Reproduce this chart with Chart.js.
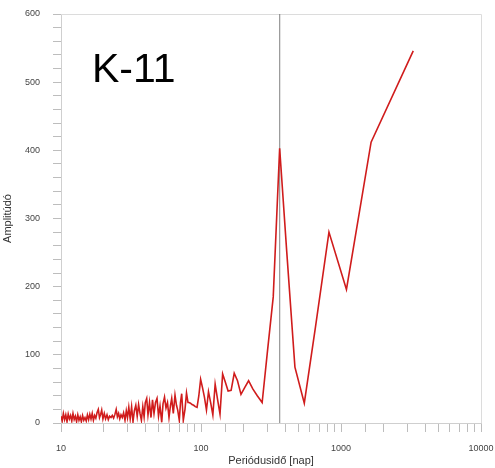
<!DOCTYPE html>
<html>
<head>
<meta charset="utf-8">
<script src="https://cdn.jsdelivr.net/npm/chart.js@4.4.1/dist/chart.umd.min.js"></script>
<style>
  body { margin: 0; background: #fff; }
  #wrap { position: relative; width: 495px; height: 468px; }
  #label {
    position: absolute; left: 92px; top: 48px;
    font: 41px/1 "Liberation Sans", Arial, sans-serif; color: #000;
  }
</style>
</head>
<body>
<div id="wrap">
  <canvas id="chart" width="495" height="468"></canvas>
  <div id="label">K-11</div>
</div>
<script>
// Period (days) and amplitude
let periods = [
    10.00, 10.20, 10.40, 10.61, 10.82, 11.04, 11.26, 11.48, 11.71, 11.94,
    12.18, 12.42, 12.67, 12.92, 13.18, 13.44, 13.71, 13.98, 14.26, 14.55,
    14.84, 15.14, 15.44, 15.75, 16.06, 16.38, 16.71, 17.04, 17.38, 17.73,
    18.08, 18.47, 18.84, 19.21, 19.53, 19.93,
    20.38, 20.82, 21.31, 21.77, 22.24, 22.76, 23.25, 23.75, 24.30, 24.79,
    25.28, 25.79, 26.30, 26.83, 27.41, 28.00, 28.65, 29.27, 29.85,
    30.50, 31.21, 31.94, 32.68, 33.44, 34.22, 35.02, 35.83, 36.67, 37.52,
    38.39, 39.23,
    40.00, 40.94, 41.82, 42.87, 43.94, 45.04, 46.17, 47.32, 48.51, 49.72,
    50.96, 52.41, 53.54, 54.88, 56.23, 57.64, 59.08, 60.56, 61.77, 63.41,
    65.21, 66.83, 68.17, 69.98, 71.37, 72.80, 74.74, 76.86, 78.79, 80.75,
    82.0, 84.1, 86.3, 88.7, 91.1, 93.7, 96.5, 99.4, 102.5, 105.8,
    109.4, 113.1, 117.2, 121.5, 126.2, 131.2, 136.7, 142.7, 149.1, 156.2,
    164.1, 172.7, 182.3, 193.0, 205.1, 218.7, 234.4, 252.4, 273.4, 298.3,
    328.1, 364.6, 410.1, 468.7, 546.8, 656.2, 820.3, 1093.7, 1640.5, 3281
];
let amplitudes = [
    10, 3, 14, 5, 12, 2, 13, 6, 11, 3,
    14, 5, 10, 2, 12, 4, 9, 2, 11, 4,
    8, 3, 12, 5, 13, 6, 14, 4, 11, 7,
    15, 20, 8, 13, 19, 6,
    14, 6, 12, 5, 10, 8, 11, 7, 13, 20,
    9, 14, 6, 12, 8, 15, 4, 18, 8,
    23, 6, 24, 2, 18, 26, 10, 27, 14, 4,
    24, 9,
    30, 36, 12, 30, 8, 34, 14, 30, 36, 10,
    25, 1, 28, 38, 22, 30, 8, 26, 36, 14,
    41, 26, 19, 4, 30, 43, 4, 20, 44, 30,
    30, 29, 27, 26, 24, 23, 40, 64, 52, 38,
    19, 46, 30, 12, 57, 35, 13, 72, 60, 47,
    48, 73, 62, 42, 52, 62, 50, 40, 30, 105,
    185, 403, 250, 82, 29, 140, 280, 196, 412, 546
];
let markerPeriod = [365];

let xRange = [10, 10000];
let yRange = [0, 600];

// light frame on top and right side of the plot
const framePlugin = {
    id: 'frame',
    beforeDatasetsDraw(chart) {
        const {ctx, chartArea: a} = chart;
        ctx.save();
        ctx.strokeStyle = '#dcdcdc';
        ctx.lineWidth = 1;
        ctx.beginPath();
        ctx.moveTo(a.left, a.top + 0.5);
        ctx.lineTo(a.right + 0.5, a.top + 0.5);
        ctx.lineTo(a.right + 0.5, a.bottom);
        ctx.stroke();
        ctx.restore();
    }
};

const font = {family: '"Liberation Sans", Arial, sans-serif', size: 9};
const titleFont = {family: '"Liberation Sans", Arial, sans-serif', size: 11};

new Chart(document.getElementById('chart'), {
    type: 'line',
    data: {
        datasets: [{
            data: periods.map((p, i) => ({x: p, y: amplitudes[i]})),
            borderColor: 'rgb(208, 28, 28)',
            borderWidth: 1.6,
            pointRadius: 0,
            tension: 0
        }, {
            data: [{x: markerPeriod[0], y: yRange[0]}, {x: markerPeriod[0], y: yRange[1]}],
            borderColor: '#808080',
            borderWidth: 1,
            pointRadius: 0
        }]
    },
    options: {
        responsive: false,
        animation: false,
        layout: {padding: {top: 14, right: 14, left: 0, bottom: 0}},
        plugins: {
            legend: {display: false},
            tooltip: {enabled: false}
        },
        scales: {
            x: {
                type: 'logarithmic',
                min: xRange[0],
                max: xRange[1],
                afterFit(scale) {
                    scale.height = 45;
                    scale.paddingLeft = 0;
                    scale.paddingRight = 0;
                },
                border: {color: '#cfcfcf'},
                grid: {drawOnChartArea: false, tickLength: 9, tickColor: '#bdbdbd'},
                ticks: {
                    autoSkip: false,
                    maxRotation: 0,
                    padding: 11,
                    color: '#444',
                    font: font,
                    callback: v => {
                        const l = Math.log10(v);
                        return Math.abs(l - Math.round(l)) < 1e-9 ? String(v) : '';
                    }
                },
                title: {
                    display: true,
                    text: 'Periódusidő [nap]',
                    color: '#333',
                    font: titleFont,
                    padding: {top: 0, bottom: 0}
                }
            },
            y: {
                min: yRange[0],
                max: yRange[1],
                afterFit(scale) {
                    scale.width = 61;
                    scale.paddingTop = 0;
                    scale.paddingBottom = 0;
                },
                border: {color: '#cfcfcf'},
                grid: {drawOnChartArea: false, tickLength: 8, tickColor: '#bdbdbd'},
                ticks: {
                    stepSize: 20,
                    autoSkip: false,
                    padding: 13,
                    color: '#444',
                    font: font,
                    callback: v => (v % 100 === 0 ? v : '')
                },
                title: {
                    display: true,
                    text: 'Amplitúdó',
                    color: '#333',
                    font: titleFont,
                    padding: {top: 1, bottom: 0}
                }
            }
        }
    },
    plugins: [framePlugin]
});
</script>
</body>
</html>
